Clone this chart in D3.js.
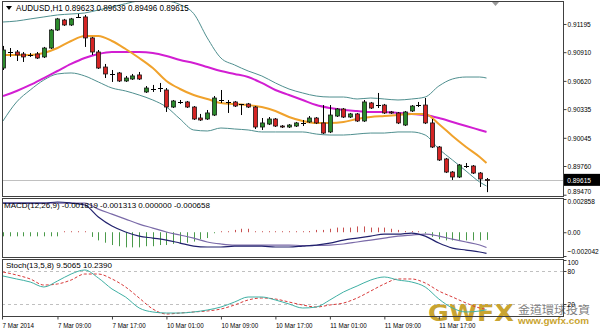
<!DOCTYPE html>
<html>
<head>
<meta charset="utf-8">
<script src="https://cdn.jsdelivr.net/npm/d3@7"></script>
<style>
  body { margin: 0; background: #fff; }
  svg { display: block; font-family: "Liberation Sans", Arial, sans-serif; }
</style>
</head>
<body>
<div id="chart"></div>
<script>
// AUDUSD H1, 7 Mar 2014 01:00 .. 12 Mar 00:00 (72 bars)
var opens = [0.90750,0.90912,0.90912,0.90892,0.90882,0.90892,0.90862,0.90952,0.91134,0.91235,
  0.91185,0.91266,0.91266,0.91054,0.90912,0.90760,0.90690,0.90700,0.90619,0.90639,
  0.90680,0.90508,0.90538,0.90548,0.90528,0.90356,0.90407,0.90407,0.90356,0.90245,
  0.90235,0.90275,0.90427,0.90407,0.90407,0.90387,0.90387,0.90356,0.90154,0.90184,
  0.90235,0.90164,0.90154,0.90164,0.90195,0.90205,0.90245,0.90195,0.90104,0.90265,
  0.90336,0.90255,0.90286,0.90215,0.90397,0.90376,0.90376,0.90306,0.90296,0.90174,
  0.90316,0.90376,0.90376,0.90195,0.89952,0.89831,0.89699,0.89649,0.89760,0.89760,
  0.89689,0.89623];
var highs = [0.90973,0.90952,0.90932,0.90912,0.90902,0.90912,0.90963,0.91144,0.91256,0.91246,
  0.91256,0.91296,0.91286,0.91064,0.90932,0.90791,0.90730,0.90710,0.90670,0.90690,
  0.90710,0.90568,0.90579,0.90599,0.90548,0.90427,0.90427,0.90417,0.90366,0.90286,
  0.90326,0.90467,0.90528,0.90427,0.90417,0.90387,0.90397,0.90366,0.90245,0.90255,
  0.90245,0.90174,0.90184,0.90205,0.90225,0.90265,0.90255,0.90376,0.90376,0.90346,
  0.90346,0.90296,0.90296,0.90427,0.90407,0.90498,0.90387,0.90316,0.90306,0.90316,
  0.90376,0.90407,0.90447,0.90235,0.89962,0.89841,0.89709,0.89780,0.89790,0.89770,
  0.89699,0.89639];
var lows = [0.90730,0.90862,0.90821,0.90811,0.90862,0.90841,0.90851,0.90942,0.91124,0.91175,
  0.91175,0.91256,0.90963,0.90882,0.90740,0.90649,0.90609,0.90609,0.90609,0.90629,
  0.90629,0.90498,0.90508,0.90508,0.90306,0.90346,0.90387,0.90346,0.90225,0.90215,
  0.90225,0.90265,0.90397,0.90296,0.90356,0.90275,0.90346,0.90134,0.90124,0.90174,
  0.90154,0.90144,0.90144,0.90154,0.90164,0.90195,0.90184,0.90083,0.90093,0.90255,
  0.90245,0.90245,0.90205,0.90205,0.90336,0.90346,0.90286,0.90286,0.90184,0.90164,
  0.90306,0.90356,0.90184,0.89942,0.89811,0.89689,0.89619,0.89639,0.89740,0.89679,
  0.89548,0.89496];
var closes = [0.90932,0.90915,0.90882,0.90862,0.90884,0.90851,0.90952,0.91134,0.91246,0.91185,
  0.91246,0.91268,0.91054,0.90912,0.90750,0.90690,0.90688,0.90619,0.90649,0.90670,
  0.90639,0.90548,0.90536,0.90550,0.90356,0.90417,0.90405,0.90356,0.90235,0.90225,
  0.90296,0.90447,0.90425,0.90405,0.90366,0.90385,0.90356,0.90154,0.90195,0.90235,
  0.90164,0.90154,0.90174,0.90195,0.90193,0.90245,0.90195,0.90093,0.90275,0.90336,
  0.90255,0.90286,0.90215,0.90407,0.90346,0.90378,0.90296,0.90296,0.90195,0.90306,
  0.90366,0.90378,0.90195,0.89952,0.89821,0.89699,0.89649,0.89770,0.89762,0.89689,
  0.89629,0.89615];

// time axis
var tickBars = [0, 8, 16, 24, 32, 40, 48, 56, 64];
var tickLabels = ["7 Mar 2014", "7 Mar 09:00", "7 Mar 17:00", "10 Mar 01:00", "10 Mar 09:00",
  "10 Mar 17:00", "11 Mar 01:00", "11 Mar 09:00", "11 Mar 17:00"];

// price axis
var priceTicks = [0.91195, 0.90910, 0.90620, 0.90335, 0.90045, 0.89760, 0.89470];
var lastPrice = 0.89615;

// indicator lines, read at these bars
var indBars = [0,2,4,6,8,10,12,14,16,18,20,22,24,26,28,30,32,34,36,38,40,42,44,46,48,50,52,54,56,58,60,62,64,66,68,70,71];
var bbUpper = [0.91215,0.91225,0.91246,0.91266,0.91286,0.91296,0.91306,0.91336,0.91367,0.91400,
  0.91430,0.91440,0.91430,0.91390,0.91300,0.91054,0.90851,0.90781,0.90720,0.90670,
  0.90599,0.90538,0.90498,0.90467,0.90457,0.90457,0.90437,0.90447,0.90437,0.90427,
  0.90437,0.90457,0.90568,0.90639,0.90659,0.90659,0.90649];
var bbLower = [0.90215,0.90407,0.90528,0.90629,0.90690,0.90700,0.90670,0.90609,0.90548,0.90518,
  0.90477,0.90427,0.90356,0.90235,0.90124,0.90114,0.90144,0.90134,0.90124,0.90104,
  0.90104,0.90104,0.90104,0.90083,0.90073,0.90073,0.90083,0.90093,0.90093,0.90104,
  0.90104,0.90073,0.89932,0.89821,0.89709,0.89598,0.89558];
var maFast = [0.90882,0.90882,0.90882,0.90902,0.90952,0.91023,0.91074,0.91074,0.91023,0.90942,
  0.90851,0.90750,0.90619,0.90538,0.90477,0.90437,0.90397,0.90387,0.90376,0.90356,
  0.90316,0.90255,0.90215,0.90195,0.90195,0.90205,0.90235,0.90255,0.90265,0.90275,
  0.90286,0.90286,0.90184,0.90063,0.89952,0.89851,0.89790];
var maSlow = [0.90467,0.90518,0.90579,0.90649,0.90720,0.90791,0.90851,0.90892,0.90912,0.90912,
  0.90912,0.90902,0.90872,0.90831,0.90801,0.90760,0.90720,0.90690,0.90659,0.90599,
  0.90528,0.90477,0.90427,0.90376,0.90346,0.90326,0.90316,0.90306,0.90306,0.90296,
  0.90286,0.90275,0.90245,0.90205,0.90164,0.90124,0.90104];

// MACD(12,26,9)
var macdMain = [0.00251,0.00251,0.00251,0.00251,0.00260,0.00251,0.00234,0.00131,0.00053,0.00002,
  -0.00033,-0.00050,-0.00067,-0.00093,-0.00119,-0.00127,-0.00127,-0.00119,-0.00119,-0.00119,
  -0.00127,-0.00127,-0.00119,-0.00110,-0.00093,-0.00067,-0.00050,-0.00033,-0.00016,-0.00016,
  -0.00007,-0.00033,-0.00093,-0.00136,-0.00153,-0.00170,-0.001819];
var macdSignal = [0.00251,0.00251,0.00251,0.00251,0.00251,0.00251,0.00251,0.00199,0.00156,0.00113,
  0.00070,0.00036,0.00002,-0.00024,-0.00050,-0.00084,-0.00101,-0.00110,-0.00110,-0.00110,
  -0.00110,-0.00110,-0.00114,-0.00114,-0.00110,-0.00101,-0.00084,-0.00067,-0.00050,-0.00033,
  -0.00024,-0.00016,-0.00033,-0.00059,-0.00084,-0.00110,-0.001313];
var macdHist = [-0.00035,-0.00035,-0.00035,-0.00035,-0.00035,-0.00035,-0.00035,-0.00035,-0.00035,0.00003,
  0.00005,0.00003,0.00002,-0.0004,-0.0007,-0.0009,-0.0011,-0.0012,-0.0013,-0.0013,
  -0.0013,-0.0012,-0.0012,-0.0011,-0.0011,-0.0010,-0.0010,-0.0009,-0.0008,-0.0006,
  -0.0005,-0.00005,0.00003,0.00005,0.0002,0.0003,0.0003,0.00005,0.00003,0.00003,
  0.00005,0.00003,0.00003,0.00005,0.00005,0.0001,0.0002,0.0002,0.0003,0.0004,
  0.0004,0.0004,0.0005,0.0005,0.0004,0.0004,0.0004,0.0003,0.0002,0.0001,
  0.0001,0.00005,-0.0001,-0.0004,-0.0006,-0.0007,-0.0007,-0.0007,-0.0007,-0.0007,
  -0.0007,-0.000658];
var macdTicks = [0.002858, 0.00, -0.002042];

// Stoch(13,5,8)
var stochMain = [70.9,65.5,60.0,50.9,61.8,74.5,81.8,67.3,47.3,32.7,
  12.7,5.5,3.6,3.6,5.5,9.1,14.5,23.6,32.7,32.7,
  27.3,20.0,12.7,14.5,27.3,41.8,52.7,63.6,69.1,63.6,
  60.0,50.9,29.1,12.7,5.5,7.3,9.5065];
var stochSignal = [78.2,72.7,65.5,54.5,56.4,63.6,74.5,74.5,65.5,50.9,
  30.9,10.9,1.8,3.6,5.5,7.3,10.9,18.2,27.3,30.9,
  29.1,23.6,18.2,14.5,18.2,21.8,30.9,43.6,56.4,65.5,
  65.5,58.2,43.6,32.7,21.8,12.7,10.239];
var stochTicks = [100, 80, 20];
var stochLevels = [80, 20];

var W = 600, H = 332;
var plotLeft = 2, plotRight = 563;
var panels = {
  main:  {top: 1, bottom: 196},
  macd:  {top: 198, bottom: 257},
  stoch: {top: 259, bottom: 316}
};

var svg = d3.select("#chart").append("svg")
  .attr("width", W).attr("height", H);

var x = d3.scaleLinear().domain([0, 71]).range([3, 486.5]);
var yMain = d3.scaleLinear().domain([0.89457, 0.91417]).range([196, 2]);
var yMacd = d3.scaleLinear().domain([-0.002042, 0.002858]).range([256, 199]);
var yStoch = d3.scaleLinear().domain([0, 100]).range([315, 260]);

function px(v) { return Math.round(v) + 0.5; }

// clip paths so lines stay inside their panels
Object.keys(panels).forEach(function(k) {
  var p = panels[k];
  svg.append("clipPath").attr("id", "clip-" + k)
    .append("rect")
    .attr("x", plotLeft + 1).attr("y", p.top + 1)
    .attr("width", plotRight - plotLeft - 1).attr("height", p.bottom - p.top - 1);
});

// watermark (drawn first, labels sit over it)
var wm = svg.append("g").attr("class", "watermark");
wm.append("text")
  .attr("x", 428).attr("y", 321)
  .attr("textLength", 86).attr("lengthAdjust", "spacingAndGlyphs")
  .style("font-family", "'DejaVu Sans', sans-serif")
  .style("font-size", "23px").style("font-weight", "bold")
  .style("fill", "#c9a430")
  .text("GWFX");
wm.append("text")
  .attr("x", 518).attr("y", 314)
  .attr("textLength", 72).attr("lengthAdjust", "spacingAndGlyphs")
  .style("font-family", "'Noto Sans CJK TC', sans-serif")
  .style("font-size", "11px")
  .style("fill", "#808080")
  .text("金道環球投資");
wm.append("text")
  .attr("x", 518).attr("y", 324)
  .attr("textLength", 71).attr("lengthAdjust", "spacingAndGlyphs")
  .style("font-size", "8.5px").style("font-weight", "bold")
  .style("fill", "#c9a430")
  .text("www.gwfx.com");

// ---- main panel ----
var gMain = svg.append("g").attr("clip-path", "url(#clip-main)");

// last price line
gMain.append("line")
  .attr("x1", plotLeft).attr("x2", plotRight)
  .attr("y1", px(yMain(lastPrice))).attr("y2", px(yMain(lastPrice)))
  .style("stroke", "#c0c0c0").style("stroke-width", 1);

function lineOf(yScale, values) {
  return d3.line()
    .x(function(d, i) { return x(indBars[i]); })
    .y(function(d) { return yScale(d); })
    .curve(d3.curveMonotoneX)(values);
}

gMain.append("path").attr("d", lineOf(yMain, bbUpper))
  .style("fill", "none").style("stroke", "#4f8f8f").style("stroke-width", 1);
gMain.append("path").attr("d", lineOf(yMain, bbLower))
  .style("fill", "none").style("stroke", "#4f8f8f").style("stroke-width", 1);
gMain.append("path").attr("d", lineOf(yMain, maSlow))
  .style("fill", "none").style("stroke", "#d21ed2").style("stroke-width", 2);
gMain.append("path").attr("d", lineOf(yMain, maFast))
  .style("fill", "none").style("stroke", "#f0a22c").style("stroke-width", 2);

// candles
var bars = d3.range(opens.length);
var candle = gMain.selectAll("g.candle").data(bars).enter()
  .append("g").attr("class", "candle");

candle.append("line")
  .attr("x1", function(i) { return px(x(i)); })
  .attr("x2", function(i) { return px(x(i)); })
  .attr("y1", function(i) { return yMain(highs[i]); })
  .attr("y2", function(i) { return yMain(lows[i]); })
  .style("stroke", "#000").style("stroke-width", 1);

candle.each(function(i) {
  var g = d3.select(this);
  var cx = Math.round(x(i));
  var yo = yMain(opens[i]), yc = yMain(closes[i]);
  if (Math.abs(opens[i] - closes[i]) < 0.00004) {
    g.append("line")
      .attr("x1", cx - 2).attr("x2", cx + 3)
      .attr("y1", px(yo)).attr("y2", px(yo))
      .style("stroke", "#000").style("stroke-width", 1);
  } else {
    g.append("rect")
      .attr("x", cx - 1.5).attr("width", 4)
      .attr("y", Math.min(yo, yc)).attr("height", Math.max(1, Math.abs(yo - yc)))
      .style("fill", closes[i] > opens[i] ? "#2b8a2b" : "#d42424")
      .style("stroke", "#1a1a1a").style("stroke-width", 0.8);
  }
});

// ---- MACD panel ----
var gMacd = svg.append("g").attr("clip-path", "url(#clip-macd)");
gMacd.selectAll("line.hist").data(macdHist).enter()
  .append("line").attr("class", "hist")
  .attr("x1", function(d, i) { return px(x(i)); })
  .attr("x2", function(d, i) { return px(x(i)); })
  .attr("y1", yMacd(0))
  .attr("y2", function(d) {
    var y = yMacd(d);
    return Math.abs(y - yMacd(0)) < 1 ? yMacd(0) + (d < 0 ? 1 : -1) : y;
  })
  .style("stroke", function(d) { return d < 0 ? "#4a9a4a" : "#c85050"; })
  .style("stroke-width", 1);

gMacd.append("path").attr("d", lineOf(yMacd, macdSignal))
  .style("fill", "none").style("stroke", "#7a6aa8").style("stroke-width", 1.2);
gMacd.append("path").attr("d", lineOf(yMacd, macdMain))
  .style("fill", "none").style("stroke", "#22226e").style("stroke-width", 1.2);

// ---- Stoch panel ----
var gSto = svg.append("g").attr("clip-path", "url(#clip-stoch)");
gSto.selectAll("line.level").data(stochLevels).enter()
  .append("line").attr("class", "level")
  .attr("x1", plotLeft).attr("x2", plotRight)
  .attr("y1", function(d) { return px(yStoch(d)); })
  .attr("y2", function(d) { return px(yStoch(d)); })
  .style("stroke", "#c0c0c0").style("stroke-dasharray", "3,3");
gSto.append("path").attr("d", lineOf(yStoch, stochSignal))
  .style("fill", "none").style("stroke", "#d83a3a").style("stroke-width", 1)
  .style("stroke-dasharray", "3,2");
gSto.append("path").attr("d", lineOf(yStoch, stochMain))
  .style("fill", "none").style("stroke", "#3fb0a4").style("stroke-width", 1);

// ---- frames ----
Object.keys(panels).forEach(function(k) {
  var p = panels[k];
  svg.append("rect")
    .attr("x", plotLeft + 0.5).attr("y", p.top + 0.5)
    .attr("width", plotRight - plotLeft).attr("height", p.bottom - p.top)
    .style("fill", "none").style("stroke", "#404040").style("stroke-width", 1);
});

// chart shift marker
svg.append("path").attr("d", "M492,2L499,2L495.5,6Z").style("fill", "#9a9a9a");

// ---- axes ----
function styleAxis(g, k) {
  g.select(".domain").remove();
  g.selectAll(".tick line").style("stroke", "#404040");
  g.selectAll("text")
    .style("font-size", "8px").style("fill", "#000")
    .attr("transform", "scale(" + k + ",1)");
}

var axMain = svg.append("g")
  .attr("transform", "translate(" + (plotRight + 0.5) + ",0)")
  .call(d3.axisRight(yMain).tickValues(priceTicks).tickSize(3).tickPadding(2)
    .tickFormat(d3.format(".5f")));
styleAxis(axMain, 0.82);
// lowest label is pushed up to stay inside the panel
axMain.selectAll(".tick").filter(function(d) { return d === 0.89470; })
  .select("text").attr("dy", "-0.1em");

// last price box
var lp = svg.append("g").attr("transform", "translate(" + (plotRight + 1) + "," + yMain(lastPrice) + ")");
lp.append("rect").attr("x", 0).attr("y", -6.5).attr("width", 37).attr("height", 12).style("fill", "#000");
lp.append("text").attr("x", 4).attr("y", 3)
  .attr("transform", "scale(0.82,1)")
  .style("font-size", "8px").style("fill", "#fff")
  .text(d3.format(".5f")(lastPrice));

var axMacd = svg.append("g")
  .attr("transform", "translate(" + (plotRight + 0.5) + ",0)")
  .call(d3.axisRight(yMacd).tickValues(macdTicks).tickSize(3).tickPadding(2)
    .tickFormat(function(d) { return d === 0 ? "0.00" : d3.format(".6f")(d); }));
styleAxis(axMacd, 0.82);
axMacd.selectAll(".tick").filter(function(d) { return d > 0; }).select("text").attr("dy", "0.6em");
axMacd.selectAll(".tick").filter(function(d) { return d < 0; }).select("text").attr("dy", "-0.3em");

var axSto = svg.append("g")
  .attr("transform", "translate(" + (plotRight + 0.5) + ",0)")
  .call(d3.axisRight(yStoch).tickValues(stochTicks).tickSize(3).tickPadding(2));
styleAxis(axSto, 0.82);
axSto.selectAll(".tick").filter(function(d) { return d === 100; }).select("text").attr("dy", "0.55em");

var axTime = svg.append("g")
  .attr("transform", "translate(0," + (panels.stoch.bottom + 0.5) + ")")
  .call(d3.axisBottom(x).tickValues(tickBars).tickSize(3)
    .tickFormat(function(d, i) { return tickLabels[i]; }));
axTime.select(".domain").remove();
axTime.selectAll(".tick line").style("stroke", "#404040");
axTime.selectAll("text")
  .attr("y", 11.5).attr("dy", null)
  .style("text-anchor", "start")
  .style("font-size", "8px").style("fill", "#000")
  .attr("transform", "scale(0.78,1)");
// first label sits on the frame
axTime.selectAll(".tick").filter(function(d) { return d === 0; })
  .attr("transform", "translate(" + (plotLeft + 0.5) + ",0)");

// ---- headers ----
svg.append("path").attr("d", "M6,6L12,6L9,10Z").style("fill", "#000");
svg.append("text").attr("x", 16).attr("y", 11)
  .attr("transform", "translate(16,0) scale(0.9,1) translate(-16,0)")
  .style("font-size", "9px").style("fill", "#000")
  .text("AUDUSD,H1  0.89623 0.89639 0.89496 0.89615");
svg.append("text").attr("x", 4).attr("y", 208)
  .style("font-size", "8px").style("fill", "#000")
  .text("MACD(12,26,9) -0.001819 -0.001313 0.000000 -0.000658");
svg.append("text").attr("x", 6).attr("y", 268)
  .style("font-size", "8px").style("fill", "#000")
  .text("Stoch(13,5,8) 9.5065 10.2390");
</script>
</body>
</html>
